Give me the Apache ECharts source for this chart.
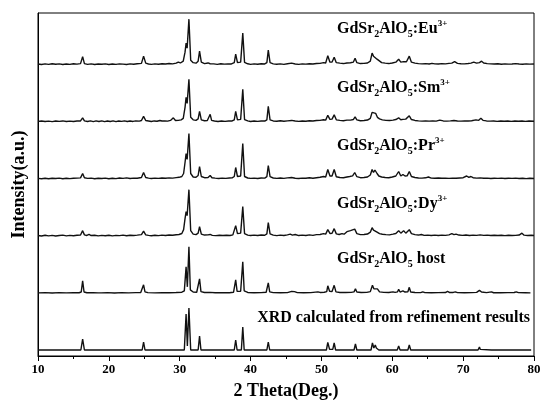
<!DOCTYPE html>
<html>
<head>
<meta charset="utf-8">
<script src="https://cdn.jsdelivr.net/npm/echarts@6/dist/echarts.min.js"></script>
<style>
  html, body { margin: 0; padding: 0; background: #fff; }
  #chart { width: 544px; height: 400px; }
</style>
</head>
<body>
<div id="chart"></div>
<script>
// 2θ range and tick spacing of the diffraction axis
const thetaMin = 10;
const thetaMax = 80;
const thetaStep = 10;

// Measured patterns: [2θ (deg), intensity (a.u., background = 0)]
const euPattern = [
  [10,0.2],[10.5,-0.3],[11,0.3],[11.5,-0.2],[12,0.4],[12.5,-0.1],[13,0.3],[13.5,-0.3],[14,0.2],[14.5,-0.2],
  [15,0.4],[15.5,0],[16,0.5],[16.3,7.5],[16.55,0.6],[17,-0.2],[17.5,0.3],[18,-0.3],[18.5,0.2],[19,-0.1],
  [19.5,0.3],[20,-0.3],[20.5,0.2],[21,-0.2],[21.5,0.3],[22,0],[22.5,-0.3],[23,0.3],[23.5,-0.1],[24,0.4],
  [24.6,0.8],[24.9,8],[25.2,1],[25.6,0.2],[26,-0.2],[26.5,0.3],[27,-0.1],[27.5,0.4],[28,0.1],[28.5,0.6],
  [29,0.3],[29.5,1],[29.8,2],[30.1,1.2],[30.5,3],[30.75,12],[30.9,21],[31.05,16],[31.3,45],[31.55,4],
  [31.9,1.5],[32.3,1],[32.6,3],[32.8,13],[33.05,2],[33.5,0.6],[34,1.2],[34.3,0.4],[34.8,0.3],[35.3,-0.2],
  [35.8,0.4],[36.3,0],[36.8,0.3],[37.3,0.2],[37.7,1.5],[37.9,10],[38.15,1.5],[38.6,2],[38.9,31],[39.15,1.8],
  [39.6,0.4],[40,-0.2],[40.5,0.3],[41,-0.1],[41.5,0.4],[42,0.2],[42.3,1.5],[42.5,14],[42.75,1.5],[43.2,0.3],
  [43.7,-0.1],[44.2,0.3],[44.7,-0.2],[45.2,0.4],[45.8,1],[46.3,0.2],[46.8,-0.2],[47.3,0.3],[47.8,0],[48.3,0.4],
  [48.8,0.1],[49.3,0.6],[49.8,0.8],[50.3,1.6],[50.6,1.2],[50.9,8.5],[51.2,2],[51.5,2.2],[51.8,7],[52.1,1.5],
  [52.6,1],[53.1,0.6],[53.6,1.2],[54.1,1.4],[54.5,2],[54.75,6],[55,1.5],[55.5,0.6],[56,0.8],[56.5,1.2],
  [56.9,3],[57.15,11],[57.35,8],[57.6,8.5],[57.85,5],[58.1,3],[58.5,1.5],[59,1],[59.5,0.6],[60,1.2],
  [60.5,2],[60.9,5],[61.2,2],[61.6,2.5],[62,2.4],[62.4,8],[62.7,2],[63.2,1],[63.7,0.5],[64.2,0.3],
  [64.7,0.5],[65.2,0.2],[65.6,0.8],[66,0.3],[66.5,0.2],[67,0.5],[67.5,0.3],[68,0.8],[68.4,1],[68.8,2.5],
  [69.2,0.8],[69.7,0.4],[70.2,0.3],[70.7,0.6],[71.1,1],[71.5,2],[71.9,1],[72.3,1.5],[72.6,3],[72.9,1.2],
  [73.4,0.5],[73.9,0.3],[74.4,0.1],[74.9,0.4],[75.4,-0.1],[75.9,0.3],[76.4,0],[76.9,0.2],[77.4,0.5],[77.9,0.1],
  [78.4,-0.1],[78.9,0.3],[79.4,0],[80,0.2]
];

const smPattern = [
  [10,0],[10.5,0.3],[11,-0.2],[11.5,0.2],[12,-0.3],[12.5,0.3],[13,0],[13.5,0.4],[14,-0.2],[14.5,0.2],
  [15,-0.1],[15.5,0.3],[16,0.4],[16.3,3.5],[16.55,0.5],[17,-0.2],[17.4,0.5],[17.8,-0.3],[18.2,0.4],[18.6,-0.2],
  [19,0.5],[19.4,-0.3],[19.8,0.3],[20.2,-0.2],[20.6,0.4],[21,-0.3],[21.4,0.3],[21.8,0],[22.2,0.5],[22.6,-0.2],
  [23,0.3],[23.4,-0.1],[23.8,0.4],[24.3,0.2],[24.6,0.8],[24.9,5],[25.2,0.8],[25.6,0.3],[26,-0.2],[26.4,0.4],
  [26.8,0.1],[27.2,0.8],[27.5,0.3],[27.9,0.5],[28.3,0.2],[28.7,0.9],[29.1,3.5],[29.4,0.8],[29.8,1],[30.2,1.5],
  [30.5,3],[30.75,14],[30.9,24],[31.05,18],[31.3,42],[31.55,4],[31.9,1.5],[32.3,1],[32.6,2.5],[32.8,10],
  [33.05,1.5],[33.5,0.6],[33.9,0.8],[34.1,1.5],[34.3,7],[34.5,1],[34.9,0.3],[35.4,-0.1],[35.9,0.4],[36.4,0],
  [36.9,0.3],[37.4,0.4],[37.7,1.5],[37.9,10],[38.15,1.5],[38.6,2],[38.9,32],[39.15,1.8],[39.6,0.4],[40,-0.2],
  [40.5,0.3],[41,0],[41.5,0.4],[42,0.3],[42.3,1.5],[42.5,15],[42.75,1.5],[43.2,0.4],[43.7,0.1],[44.2,0.6],
  [44.7,0.1],[45.2,0.5],[45.8,0.9],[46.3,0.3],[46.8,0],[47.3,0.4],[47.8,0.1],[48.3,0.6],[48.8,0.3],[49.3,0.8],
  [49.8,1],[50.3,1.6],[50.6,1.2],[50.9,6],[51.2,2],[51.5,2.2],[51.8,6.5],[52.1,1.5],[52.6,1],[53.1,0.6],
  [53.6,1.2],[54.1,1.2],[54.5,1.8],[54.75,4.5],[55,1.5],[55.5,0.6],[56,0.9],[56.5,1.3],[56.9,3],[57.15,9],
  [57.4,7],[57.65,8],[57.9,4],[58.2,2.5],[58.6,1.5],[59.1,1],[59.6,0.8],[60.1,1.2],[60.5,1.8],[60.9,3.5],
  [61.2,1.6],[61.5,2],[61.9,2.2],[62.4,5.5],[62.7,1.8],[63.2,0.9],[63.7,0.5],[64.2,0.2],[64.7,0.5],[65.2,0.2],
  [65.7,0.5],[66.2,0.2],[66.7,1.2],[67.2,0.4],[67.7,0.2],[68.2,0.5],[68.7,0.9],[69.2,0.4],[69.7,0.2],[70.2,0.4],
  [70.7,0.3],[71.2,0.6],[71.8,1.5],[72.2,1],[72.5,3],[72.8,1],[73.3,0.4],[73.8,0.2],[74.3,0.4],[74.8,0],
  [75.3,0.3],[75.8,0.1],[76.3,0.4],[76.8,0],[77.3,0.3],[77.8,0.1],[78.3,0.3],[78.8,0],[79.3,0.3],[80,0.1]
];

const prPattern = [
  [10,0.1],[10.5,-0.2],[11,0.3],[11.5,-0.3],[12,0.2],[12.5,0],[13,0.4],[13.5,-0.2],[14,0.3],[14.5,-0.1],
  [15,0.2],[15.5,0.4],[16,0.6],[16.3,5],[16.55,0.8],[17,0.1],[17.5,0.4],[18,-0.2],[18.5,0.3],[19,0],
  [19.5,0.4],[20,-0.2],[20.5,0.3],[21,-0.1],[21.5,0.5],[22,0.1],[22.5,0.6],[23,0],[23.5,0.4],[24,0.3],
  [24.6,1],[24.9,6],[25.2,1],[25.6,0.4],[26,0],[26.5,0.4],[27,0.1],[27.5,0.5],[28,0.2],[28.5,0.6],
  [29,0.4],[29.5,0.9],[29.9,1.2],[30.3,2],[30.55,5],[30.75,16],[30.9,25],[31.05,19],[31.3,45],[31.55,5],
  [31.9,1.5],[32.3,1.2],[32.6,3],[32.8,12],[33.05,2],[33.5,0.8],[34,1],[34.3,3],[34.55,0.8],[35,0.4],
  [35.5,0],[36,0.4],[36.5,0.1],[37,0.5],[37.4,0.6],[37.7,2],[37.9,11],[38.15,2],[38.6,2.5],[38.9,35],
  [39.15,2],[39.6,0.5],[40,0.1],[40.5,0.4],[41,0],[41.5,0.5],[42,0.4],[42.3,1.8],[42.5,13],[42.75,1.8],
  [43.2,0.5],[43.7,0.1],[44.2,0.5],[44.7,0.1],[45.2,0.6],[45.8,1],[46.3,0.3],[46.8,0],[47.3,0.4],[47.8,0.2],
  [48.3,0.7],[48.8,0.3],[49.3,0.8],[49.8,1.2],[50.3,2],[50.6,1.5],[50.9,9],[51.2,2.5],[51.5,2.5],[51.8,9],
  [52.1,1.8],[52.6,1],[53.1,0.8],[53.6,1.5],[54,2],[54.4,2.6],[54.7,6],[55,1.8],[55.5,0.8],[56,1],
  [56.5,1.5],[56.9,3.5],[57.15,9],[57.35,6],[57.55,8.5],[57.85,5],[58.1,2.5],[58.5,1.5],[59,1],[59.5,0.8],
  [60,1.5],[60.5,2.5],[60.9,7],[61.2,2.5],[61.5,4],[61.8,2.5],[62.1,2.6],[62.4,7],[62.7,2],[63.2,1],
  [63.7,0.5],[64.2,0.4],[64.7,0.7],[65.1,1.5],[65.5,0.4],[66,0.2],[66.5,0.5],[67,0.2],[67.5,0.4],[68,0.1],
  [68.5,0.4],[69,0.2],[69.5,0.5],[70,0.8],[70.5,2.5],[70.8,1.2],[71.1,2],[71.4,0.8],[71.9,0.4],[72.4,0.6],
  [72.9,0.2],[73.4,0.4],[73.9,0],[74.4,0.3],[74.9,0.1],[75.4,0.4],[75.9,0],[76.4,0.3],[76.9,0.1],[77.4,0.4],
  [77.9,0],[78.4,0.3],[78.9,-0.1],[79.4,0.2],[80,0]
];

const dyPattern = [
  [10,0.2],[10.5,-0.3],[11,0.4],[11.5,-0.2],[12,0.3],[12.5,-0.3],[13,0.2],[13.5,0.5],[14,-0.2],[14.5,0.3],
  [15,-0.1],[15.5,0.4],[16,0.6],[16.3,5],[16.55,0.8],[16.9,0.2],[17.2,1.2],[17.5,0.1],[18,0.4],[18.5,-0.2],
  [19,0.3],[19.5,-0.1],[20,0.4],[20.5,-0.2],[21,0.3],[21.5,0],[22,0.5],[22.5,-0.1],[23,0.4],[23.5,0.1],
  [24,0.5],[24.6,1],[24.9,4.5],[25.2,0.8],[25.6,0.3],[26,-0.1],[26.5,0.4],[27,0],[27.5,0.5],[28,0.2],
  [28.5,0.6],[29,0.4],[29.5,0.9],[29.9,1.2],[30.3,2.2],[30.55,6],[30.75,17],[30.9,24],[31.05,20],[31.3,46],
  [31.55,5],[31.9,1.5],[32.3,1],[32.6,2.5],[32.8,9],[33.05,1.6],[33.5,0.6],[34,0.8],[34.3,1.2],[34.6,0.3],
  [35.1,0],[35.6,0.4],[36.1,0.1],[36.6,0.4],[37.1,0.2],[37.5,0.8],[37.7,2],[37.9,10],[38.15,2],[38.6,2.5],
  [38.9,29],[39.15,2],[39.6,0.5],[40,0.1],[40.5,0.5],[41,0.1],[41.5,0.6],[42,0.4],[42.3,1.8],[42.5,13],
  [42.75,1.8],[43.2,0.5],[43.7,0],[44.2,0.5],[44.7,0.2],[45.2,0.8],[45.6,1.5],[45.9,0.6],[46.3,1.2],[46.8,0.1],
  [47.3,0.5],[47.8,0.2],[48.3,0.8],[48.8,0.3],[49.3,1],[49.8,1.2],[50.3,2],[50.6,1.5],[50.9,6],[51.2,2.2],
  [51.5,2.4],[51.8,7],[52.1,1.8],[52.5,1.2],[52.9,2],[53.2,1.5],[53.6,4],[53.85,2.5],[54.1,5],[54.35,3],
  [54.7,6.5],[55,2],[55.5,1],[56,1.2],[56.5,1.6],[56.9,3.5],[57.15,8],[57.35,5.5],[57.55,6],[57.85,3.5],
  [58.2,2],[58.6,1.4],[59.1,1],[59.6,0.8],[60.1,1.5],[60.5,2.2],[60.9,5],[61.2,2.5],[61.6,5],[61.9,2.5],
  [62.1,2.6],[62.4,6],[62.7,2],[63.2,1],[63.7,0.6],[64.1,1.2],[64.5,0.3],[65,0.5],[65.5,0.2],[66,0.5],
  [66.5,0.2],[67,0.5],[67.5,0.3],[68,0.8],[68.4,2],[68.7,1],[69,1.5],[69.4,0.6],[69.9,0.3],[70.4,0.6],
  [70.9,0.2],[71.4,0.5],[71.9,0.3],[72.4,0.8],[72.9,0.3],[73.4,0.5],[73.9,0.1],[74.4,0.4],[74.9,0.1],[75.4,0.4],
  [75.9,0],[76.4,0.4],[76.9,0.1],[77.4,0.3],[77.9,0.6],[78.3,2.5],[78.6,0.5],[79.1,0.2],[79.6,0.4],[80,0.1]
];

const hostPattern = [
  [10,0],[11,0.2],[12,-0.1],[13,0.2],[14,0],[15,0.2],[15.8,0.1],[16.1,0.8],[16.3,12],[16.5,0.8],
  [16.9,0.1],[17.8,0.2],[18.5,0],[18.7,1],[18.9,0],[19.8,0.2],[20.8,-0.1],[21.8,0.2],[22.8,0],[23.8,0.2],
  [24.5,0.3],[24.75,1],[24.9,8],[25.1,1],[25.5,0.2],[26.5,0],[27.5,0.2],[28.5,0.1],[29.5,0.3],[30.3,0.6],
  [30.65,2],[30.9,26],[31.08,6],[31.3,46],[31.5,3],[31.9,0.8],[32.4,0.6],[32.65,1.5],[32.8,14],[33,1.2],
  [33.5,0.3],[34.3,0.5],[35,0.1],[36,0.2],[37,0.1],[37.6,0.6],[37.75,1.5],[37.9,13],[38.1,1.5],[38.6,1.6],
  [38.75,3],[38.9,31],[39.1,2],[39.6,0.4],[40.5,0.1],[41.5,0.2],[42.2,0.6],[42.35,1.5],[42.5,10],[42.7,1],
  [43.2,0.2],[44.2,0.1],[45.2,0.2],[45.8,1.5],[46,0.6],[46.2,1.2],[46.6,0.2],[47.5,0.1],[48.5,0.2],[49.5,1],
  [49.8,0.4],[50.4,0.6],[50.75,1.2],[50.9,7],[51.15,1.6],[51.5,1.4],[51.8,7.5],[52.05,1],[52.6,0.4],[53.4,0.3],
  [54.2,0.5],[54.6,1],[54.8,4],[55,0.8],[55.6,0.3],[56.4,0.5],[56.9,1.2],[57.2,7.5],[57.4,4],[57.6,6],
  [57.9,4],[58.2,1],[58.8,0.5],[59.5,0.3],[60.1,1],[60.4,0.5],[60.75,1],[60.9,3.5],[61.1,0.8],[61.5,2],
  [61.8,0.8],[62.2,1],[62.4,5.5],[62.6,0.8],[63.2,0.3],[64,0.2],[64.3,1],[64.6,0.2],[65.5,0.1],[66.5,0.2],
  [67.5,0.3],[67.8,1.5],[68.1,0.3],[68.6,0.4],[68.9,1],[69.2,0.2],[70.2,0.1],[71.2,0.2],[71.9,0.5],[72.3,2.5],
  [72.6,0.8],[73.3,0.2],[74,1],[74.3,0.1],[75.3,0.1],[76.3,0.2],[77.2,0.3],[77.5,1],[77.8,0.2],[78.8,0.1],
  [79.5,0]
];

// Pattern calculated from the refined structure
const calcPattern = [
  [10,0],[13,0],[16.05,0],[16.3,11],[16.55,0],[18.55,0],[18.7,2],[18.85,0],[21.5,0],[24.7,0],
  [24.9,8],[25.1,0],[28,0],[30.65,0],[30.9,36],[31.08,4],[31.3,42],[31.55,0],[32.6,0],[32.8,14],
  [33,0],[35.5,0],[37.7,0],[37.9,10],[38.1,0],[38.7,0],[38.9,23],[39.1,0],[40.7,0],[42.3,0],
  [42.5,8],[42.7,0],[44,0],[45.65,0],[45.8,2],[45.95,0],[47.8,0],[49.65,0],[49.8,1],[49.95,0],
  [50.7,0],[50.9,7.5],[51.15,0.6],[51.6,0.6],[51.8,7],[52,0],[53.3,0],[54.6,0],[54.8,6],[55,0],
  [56,0],[57,0],[57.2,7],[57.4,2],[57.6,5],[57.75,2],[57.9,3.5],[58.1,0],[59.4,0],[60.7,0],
  [60.9,4],[61.1,0],[61.45,0],[61.6,1.5],[61.75,0],[62.2,0],[62.4,5],[62.6,0],[65,0],[67.65,0],
  [67.8,2],[67.95,0],[68.75,0],[68.9,1.2],[69.05,0],[70.5,0],[72.1,0],[72.3,3],[72.42,0.6],[72.55,1.8],
  [72.7,0],[74,0],[75.5,0],[77.45,0],[77.6,1],[77.75,0],[78.8,0],[79.6,0]
];

// Panels from top to bottom: pattern and its caption
const panelPatterns = [euPattern, smPattern, prPattern, dyPattern, hostPattern, calcPattern];
const dopants = ['Eu', 'Sm', 'Pr', 'Dy'];
const hostCaption = 'host';
const calcCaption = 'XRD calculated from refinement results';

const serif = "'Liberation Serif', 'Times New Roman', serif";
const plotLeft = 38, plotRight = 10, plotTop = 13, plotBottom = 44;
const plotHeight = 400 - plotTop - plotBottom;
const panelCount = panelPatterns.length;
const panelHeight = plotHeight / panelCount;

// Outer frame with the shared 2θ axis
const grids = [{ left: plotLeft, right: plotRight, top: plotTop, bottom: plotBottom,
  outerBoundsMode: 'none', containLabel: false,
  show: true, borderColor: '#000', borderWidth: 1, backgroundColor: 'transparent' }];
const xAxes = [{
  gridIndex: 0, type: 'value', min: thetaMin, max: thetaMax, interval: thetaStep,
  axisLine: { show: true, lineStyle: { color: '#000', width: 1 } },
  axisTick: { show: true, inside: false, length: 5, lineStyle: { color: '#000', width: 1 } },
  minorTick: { show: true, splitNumber: 2, length: 3, lineStyle: { color: '#000', width: 1 } },
  splitLine: { show: false },
  axisLabel: { color: '#000', fontFamily: serif, fontWeight: 'bold', fontSize: 13, margin: 7 },
  name: '2 Theta(Deg.)', nameLocation: 'middle', nameGap: 26,
  nameTextStyle: { color: '#000', fontFamily: serif, fontWeight: 'bold', fontSize: 18 }
}];
const yAxes = [{
  gridIndex: 0, type: 'value', min: 0, max: 1,
  axisLine: { show: true, lineStyle: { color: '#000', width: 1 } },
  axisTick: { show: false }, axisLabel: { show: false }, splitLine: { show: false },
  name: 'Intensity(a.u.)', nameLocation: 'middle', nameGap: 10, nameRotate: 90,
  nameTextStyle: { color: '#000', fontFamily: serif, fontWeight: 'bold', fontSize: 18 }
}];
const series = [];

// One stacked panel per pattern
panelPatterns.forEach((pattern, i) => {
  const g = i + 1;
  grids.push({ left: plotLeft, right: plotRight, top: plotTop + i * panelHeight, height: panelHeight,
    outerBoundsMode: 'none', containLabel: false });
  xAxes.push({ gridIndex: g, type: 'value', min: thetaMin, max: thetaMax, show: false });
  yAxes.push({ gridIndex: g, type: 'value', min: -6, max: panelHeight - 6, show: false });
  series.push({
    type: 'line', xAxisIndex: g, yAxisIndex: g, data: pattern,
    showSymbol: false, symbol: 'none', smooth: false, silent: true,
    lineStyle: { color: '#111', width: 1.4, join: 'bevel' }, clip: true
  });
});

// Caption text styles (sub- and superscripts)
const rich = {
  m: { fontFamily: serif, fontWeight: 'bold', fontSize: 16, lineHeight: 26, fill: '#000' },
  sub: { fontFamily: serif, fontWeight: 'bold', fontSize: 10, lineHeight: 12, padding: [11, 0, 0, 0], fill: '#000' },
  sup: { fontFamily: serif, fontWeight: 'bold', fontSize: 9, lineHeight: 11, padding: [0, 0, 10, 0], fill: '#000' }
};
const formula = '{m|GdSr}{sub|2}{m|AlO}{sub|5}';
const captions = dopants.map(d => formula + '{m|:' + d + '}{sup|3+}');
captions.push(formula + '{m| ' + hostCaption + '}');
captions.push('{m|' + calcCaption + '}');

const captionY = [29, 88, 146, 204, 259, 318];
const graphic = captions.map((text, i) => ({
  type: 'text', silent: true,
  x: i === 5 ? 530 : 337, y: captionY[i],
  style: { text, rich, align: i === 5 ? 'right' : 'left', verticalAlign: 'middle',
    font: 'bold 16px ' + serif, fill: '#000' }
}));

const chart = echarts.init(document.getElementById('chart'), null, { renderer: 'canvas' });
chart.setOption({
  animation: false,
  backgroundColor: '#fff',
  grid: grids, xAxis: xAxes, yAxis: yAxes, series, graphic
});
</script>
</body>
</html>
